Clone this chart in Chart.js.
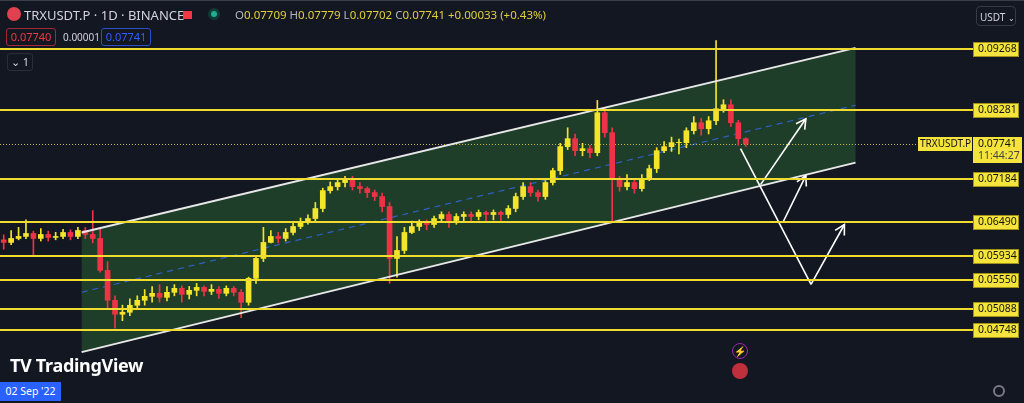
<!DOCTYPE html>
<html><head><meta charset="utf-8">
<script src="https://cdn.jsdelivr.net/npm/chart.js@4/dist/chart.umd.min.js"></script>
<style>
html,body{margin:0;padding:0;background:#131722;overflow:hidden;font-family:"Noto Sans",Roboto,sans-serif}
#wrap{position:relative;width:1024px;height:403px;border-top:1px solid #3a3e4a;box-sizing:border-box}
canvas{position:absolute;left:0;top:0}
.o{position:absolute;white-space:nowrap;font-size:12px}
</style></head><body>
<div id="wrap"><canvas id="c" width="1024" height="402"></canvas>
<div class="o" style="left:7px;top:6px;width:14px;height:14px;border-radius:7px;background:#e0404f"></div>
<div class="o" style="left:24px;top:5px;color:#d1d4dc;font-size:13px">TRXUSDT.P · 1D · BINANCE</div>
<div class="o" style="left:183px;top:10px;width:9px;height:8px;background:#f23645"></div>
<div class="o" style="left:208px;top:7px;width:12px;height:12px;border-radius:6px;background:#0f3a33"><div style="margin:3px;width:6px;height:6px;border-radius:3px;background:#22ab94"></div></div>
<div class="o" style="left:235px;top:6px;color:#e2cf3a;font-size:11.5px"><span style="color:#b2b5be">O</span>0.07709 <span style="color:#b2b5be">H</span>0.07779 <span style="color:#b2b5be">L</span>0.07702 <span style="color:#b2b5be">C</span>0.07741 +0.00033 (+0.43%)</div>
<div class="o" style="left:6px;top:27px;width:48px;height:16px;border:1px solid #a02a36;border-radius:3px;color:#f23645;font-size:11px;text-align:center;line-height:16px">0.07740</div>
<div class="o" style="left:63px;top:29px;color:#d1d4dc;font-size:10px">0.00001</div>
<div class="o" style="left:101px;top:27px;width:48px;height:16px;border:1px solid #2a4fc4;border-radius:3px;color:#2962ff;font-size:11px;text-align:center;line-height:16px">0.07741</div>
<div class="o" style="left:7px;top:52px;width:24px;height:16px;border:1px solid #2a2e39;border-radius:3px;color:#d1d4dc;font-size:11px;text-align:center;line-height:16px">⌄ 1</div>
<div class="o" style="left:976px;top:5px;width:40px;height:20px;border:1px solid #363a45;border-radius:4px;color:#d1d4dc;font-size:10px;line-height:20px;padding-left:3px;box-sizing:border-box">USDT <span style="font-size:8px">⌄</span></div>
<div class="o" style="left:10px;top:352px;color:#fff;font-size:18px;font-weight:bold;letter-spacing:-0.3px">TV TradingView</div>
<div class="o" style="left:0px;top:381px;width:61px;height:19px;background:#2962ff;color:#fff;font-size:10.5px;line-height:19px;text-align:center">02 Sep '22</div>
<div class="o" style="left:732px;top:342px;width:14px;height:14px;border-radius:8px;border:1px solid #9c27b0;color:#c060e0;font-size:10px;text-align:center;line-height:14px">⚡</div>
<div class="o" style="left:732px;top:362px;width:16px;height:16px;border-radius:8px;background:#c0303c"></div>
<div class="o" style="left:993px;top:384px;width:12px;height:12px;border-radius:6px;border:2px solid #787b86;box-sizing:border-box"></div>
</div>
<script>
const closes=[0.06158,0.06222,0.06254,0.06302,0.06222,0.06286,0.06238,0.06254,0.06318,0.06254,0.06350,0.06286,0.06222,0.05709,0.05228,0.05004,0.05036,0.05148,0.05228,0.05292,0.05340,0.05276,0.05356,0.05420,0.05324,0.05388,0.05436,0.05372,0.05404,0.05340,0.05420,0.05356,0.05196,0.05581,0.05901,0.06158,0.06254,0.06222,0.06318,0.06414,0.06478,0.06542,0.06703,0.06991,0.07055,0.07120,0.07184,0.07055,0.07023,0.06959,0.06895,0.06735,0.05901,0.06029,0.06318,0.06414,0.06478,0.06446,0.06542,0.06607,0.06510,0.06575,0.06607,0.06575,0.06639,0.06607,0.06639,0.06607,0.06703,0.06895,0.07055,0.06959,0.06895,0.07120,0.07312,0.07697,0.07825,0.07632,0.07665,0.07600,0.08242,0.07921,0.07184,0.07055,0.07120,0.07023,0.07184,0.07344,0.07632,0.07697,0.07761,0.07761,0.07953,0.08081,0.07985,0.08113,0.08306,0.08370,0.08081,0.07825,0.07741];
const firstOpen=0.06200;
const highs=[.0628,.0635,.0640,.0652,.0634,.0638,.0634,.0632,.0637,.0636,.0640,.0640,.0667,.0640,.0585,.0530,.0515,.0525,.0530,.0540,.0545,.0548,.0545,.0548,.0546,.0545,.0550,.0546,.0548,.0545,.0546,.0545,.0540,.0560,.0595,.0640,.0635,.0632,.0638,.0648,.0655,.0660,.0680,.0703,.0713,.0718,.0722,.0722,.0712,.0705,.0700,.0695,.0680,.0625,.0640,.0650,.0652,.0652,.0658,.0665,.0665,.0662,.0665,.0665,.0668,.0666,.0668,.0666,.0675,.0695,.0712,.0712,.0700,.0715,.0735,.0775,.0800,.0790,.0775,.0772,.0844,.0832,.0800,.0722,.0725,.0718,.0725,.0740,.0768,.0778,.0785,.0782,.0800,.0818,.0815,.0818,.0940,.0845,.0845,.0812,.0784];
const lows=[.0605,.0612,.0620,.0622,.0596,.0618,.0618,.0620,.0622,.0620,.0622,.0622,.0615,.0568,.0510,.0478,.0490,.0498,.0508,.0515,.0520,.0520,.0522,.0530,.0520,.0525,.0530,.0530,.0532,.0526,.0530,.0530,.0495,.0515,.0550,.0585,.0615,.0615,.0618,.0628,.0638,.0645,.0650,.0665,.0695,.0700,.0705,.0700,.0695,.0688,.0683,.0665,.0550,.0560,.0598,.0630,.0635,.0636,.0640,.0648,.0640,.0645,.0650,.0648,.0652,.0650,.0652,.0650,.0655,.0665,.0685,.0690,.0682,.0685,.0708,.0725,.0765,.0755,.0755,.0752,.0755,.0785,.0648,.0698,.0700,.0695,.0698,.0715,.0728,.0760,.0762,.0758,.0768,.0790,.0788,.0790,.0805,.0825,.0802,.0772,.0770];
const levels=[0.09268,0.08281,0.07184,0.06490,0.05934,0.05550,0.05088,0.04748];
const levelLabels=["0.09268","0.08281","0.07184","0.06490","0.05934","0.05550","0.05088","0.04748"];
const lastPrice=0.07741, lastLabel="0.07741", countdown="11:44:27", symbol="TRXUSDT.P";
const channelUpper=[[10.5,0.06318],[114.8,0.09284]];
const channelLower=[[10.5,0.04395],[114.8,0.07440]];
const channelMid=[[10.5,0.05357],[114.8,0.08362]];
const pathDown=[[99.3,0.07665],[108.8,0.05485]];
const arrowsUp=[[[102.0,0.07086],[108.1,0.08145]],[[105.0,0.06478],[108.1,0.07232]],[[108.8,0.05485],[113.3,0.06446]]];

const UP='#f5e52a',DN='#ee3346';
const opens=closes.map((c,i)=>i?closes[i-1]:firstOpen);
const bodies=closes.map((c,i)=>({x:i,y:[opens[i],c===opens[i]?c+0.00005:c]}));
const wicks=closes.map((c,i)=>({x:i,y:[lows[i],highs[i]]}));
const cols=closes.map((c,i)=>c>=opens[i]?UP:DN);

const deco={id:'deco',
beforeDatasetsDraw(ch){const {ctx,scales:{x,y}}=ch;const P=p=>[x.getPixelForValue(p[0]),y.getPixelForValue(p[1])];
 ctx.save();const a=P(channelUpper[0]),b=P(channelUpper[1]),c=P(channelLower[1]),d=P(channelLower[0]);
 ctx.fillStyle='rgba(46,110,50,0.45)';ctx.beginPath();ctx.moveTo(...a);ctx.lineTo(...b);ctx.lineTo(...c);ctx.lineTo(...d);ctx.closePath();ctx.fill();
 ctx.setLineDash([6,5]);ctx.strokeStyle='#2f5fc8';ctx.lineWidth=1.2;ctx.beginPath();ctx.moveTo(...P(channelMid[0]));ctx.lineTo(...P(channelMid[1]));ctx.stroke();
 ctx.setLineDash([1,2]);ctx.strokeStyle='#c9b94a';ctx.lineWidth=1;const py=Math.round(y.getPixelForValue(lastPrice))+0.5;ctx.beginPath();ctx.moveTo(0,py);ctx.lineTo(918,py);ctx.stroke();
 ctx.restore();},
afterDatasetsDraw(ch){const {ctx,scales:{x,y}}=ch;const P=p=>[x.getPixelForValue(p[0]),y.getPixelForValue(p[1])];
 ctx.save();
 ctx.strokeStyle='#e8e8e8';ctx.lineWidth=2;
 [channelUpper,channelLower].forEach(l=>{ctx.beginPath();ctx.moveTo(...P(l[0]));ctx.lineTo(...P(l[1]));ctx.stroke();});
 ctx.strokeStyle='#ffffff';ctx.lineWidth=1.6;
 ctx.beginPath();ctx.moveTo(...P(pathDown[0]));ctx.lineTo(...P(pathDown[1]));ctx.stroke();
 arrowsUp.forEach(([s,e])=>{const A=P(s),B=P(e);ctx.beginPath();ctx.moveTo(...A);ctx.lineTo(...B);ctx.stroke();
  const ang=Math.atan2(B[1]-A[1],B[0]-A[0]),L=11;
  ctx.beginPath();ctx.moveTo(B[0]-L*Math.cos(ang-0.5),B[1]-L*Math.sin(ang-0.5));ctx.lineTo(...B);ctx.lineTo(B[0]-L*Math.cos(ang+0.5),B[1]-L*Math.sin(ang+0.5));ctx.stroke();});
 ctx.font='10.5px "Noto Sans", sans-serif';ctx.textBaseline='middle';ctx.textAlign='left';
 levels.forEach((v,i)=>{const py=Math.round(y.getPixelForValue(v));ctx.strokeStyle='#f0dc2e';ctx.lineWidth=2;ctx.beginPath();ctx.moveTo(0,py);ctx.lineTo(973,py);ctx.stroke();
  ctx.fillStyle='#f5e43b';ctx.fillRect(973,py-7,46,15);ctx.strokeStyle='#8a7d10';ctx.lineWidth=0.8;ctx.strokeRect(973.5,py-6.5,45,14);ctx.fillStyle='#131313';ctx.fillText(levelLabels[i],978,py+0.5);});
 const py=Math.round(y.getPixelForValue(lastPrice));
 ctx.fillStyle='#f5e43b';ctx.fillRect(918,py-7,54,14);ctx.fillRect(973,py-7,49,26);ctx.fillStyle='#131313';ctx.font='10px "Noto Sans", sans-serif';ctx.fillText(symbol,920,py);ctx.font='10.5px "Noto Sans", sans-serif';ctx.fillText(lastLabel,978,py);ctx.fillStyle='#444';ctx.fillText(countdown,978,py+12);
 ctx.restore();}};

new Chart(document.getElementById('c'),{type:'bar',
data:{datasets:[
 {data:wicks,backgroundColor:cols,barThickness:1,grouped:false,order:2},
 {data:bodies,backgroundColor:cols,barThickness:5,grouped:false,order:1}]},
options:{responsive:false,animation:false,layout:{padding:0},
 plugins:{legend:{display:false},tooltip:{enabled:false}},
 scales:{x:{type:'linear',offset:false,grid:{offset:false},min:-0.5,max:137.5,display:false},y:{min:0.03578,max:0.10037,display:false}}},
plugins:[deco]});
</script></body></html>
